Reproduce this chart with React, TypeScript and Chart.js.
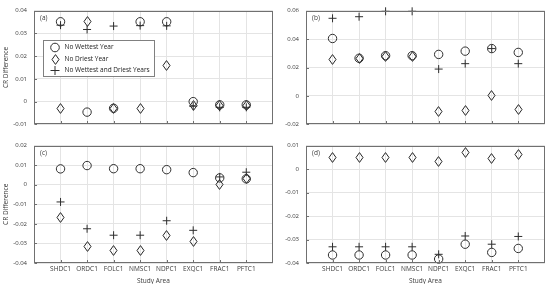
import React, { useEffect, useRef } from 'react';
import { Chart, registerables } from 'chart.js';

Chart.register(...registerables);

// ---------- data ----------
const categories = ['SHDC1', 'ORDC1', 'FOLC1', 'NMSC1', 'NDPC1', 'EXQC1', 'FRAC1', 'PFTC1'];
const seriesNames = ['No Wettest Year', 'No Driest Year', 'No Wettest and Driest Years'];
const panelLabels = ['(a)', '(b)', '(c)', '(d)'];
const yTitle = 'CR Difference';
const xTitle = 'Study Area';

// panel (a)
const aNoWettest = [0.0351, -0.0046, -0.0029, 0.0351, 0.0351, 0.0, -0.0014, -0.0014];
const aNoDriest = [-0.003, 0.0352, -0.003, -0.003, 0.0159, -0.0015, -0.0015, -0.0015];
const aNoBoth = [0.0336, 0.0317, 0.0332, 0.0334, 0.0333, -0.002, -0.0025, -0.0025];
// panel (b)
const bNoWettest = [0.0404, 0.0265, 0.0283, 0.0283, 0.0292, 0.0315, 0.0333, 0.0306];
const bNoDriest = [0.0256, 0.0262, 0.028, 0.028, -0.011, -0.0101, 0.0, -0.0094];
const bNoBoth = [0.0546, 0.0557, 0.0595, 0.0595, 0.0189, 0.0227, 0.0333, 0.0227];
// panel (c)
const cNoWettest = [0.0081, 0.0098, 0.0082, 0.0082, 0.0077, 0.0062, 0.0035, 0.003];
const cNoDriest = [-0.0166, -0.0317, -0.0334, -0.0334, -0.0258, -0.029, 0.0, 0.003];
const cNoBoth = [-0.0088, -0.0225, -0.0258, -0.0258, -0.0184, -0.0233, 0.004, 0.0064];
// panel (d)
const dNoWettest = [-0.0366, -0.0366, -0.0366, -0.0366, -0.0383, -0.032, -0.0355, -0.0338];
const dNoDriest = [0.0051, 0.005, 0.005, 0.005, 0.0033, 0.0072, 0.0046, 0.0061];
const dNoBoth = [-0.0331, -0.0331, -0.0331, -0.0331, -0.0363, -0.0285, -0.032, -0.0287];

// y-axis ranges [min, max, step]
const yRangeA = [-0.01, 0.04, 0.01];
const yRangeB = [-0.02, 0.06, 0.02];
const yRangeC = [-0.04, 0.02, 0.01];
const yRangeD = [-0.04, 0.01, 0.01];

// ---------- style ----------
const FONT = "'Open Sans', 'DejaVu Sans', sans-serif";
const INK = '#2e2e2e';
const TEXT = '#3a3a3a';
const GRID = '#e4e4e4';
const FRAME = '#707070';

function makeDiamond(): HTMLCanvasElement {
  const c = document.createElement('canvas');
  c.width = 9;
  c.height = 11;
  const g = c.getContext('2d')!;
  g.strokeStyle = '#262626';
  g.lineWidth = 1;
  g.beginPath();
  g.moveTo(4.5, 0.6);
  g.lineTo(8, 5.5);
  g.lineTo(4.5, 10.4);
  g.lineTo(1, 5.5);
  g.closePath();
  g.stroke();
  return c;
}

type PanelProps = {
  label: string;
  wettest: number[];
  driest: number[];
  both: number[];
  yRange: number[];
  left: number;
  top: number;
  width: number;
  height: number;
  padTop: number;
  padRight: number;
  yAxisWidth: number;
  xAxisHeight: number;
  showX: boolean;
  showYTitle: boolean;
  showLegend: boolean;
};

function Panel(p: PanelProps) {
  const ref = useRef<HTMLCanvasElement>(null);

  useEffect(() => {
    if (!ref.current) return;
    const diamond = makeDiamond();
    const toPts = (arr: number[]) => arr.map((v, i) => ({ x: i + 1, y: v }));

    const framePlugin = {
      id: 'frame',
      beforeDatasetsDraw(chart: any) {
        chart.ctx.imageSmoothingEnabled = false;
      },
      afterDatasetsDraw(chart: any) {
        chart.ctx.imageSmoothingEnabled = true;
      },
      afterDraw(chart: any) {
        const { ctx, chartArea: a } = chart;
        ctx.save();
        const l = Math.round(a.left) + 0.5;
        const r = Math.round(a.right) - 0.5;
        const t = Math.round(a.top) + 0.5;
        const b = Math.round(a.bottom) - 0.5;
        ctx.strokeStyle = FRAME;
        ctx.lineWidth = 1;
        // inward tick marks
        ctx.beginPath();
        chart.scales.y.ticks.forEach((tk: any) => {
          const py = Math.round(chart.scales.y.getPixelForValue(tk.value)) + 0.5;
          ctx.moveTo(l, py);
          ctx.lineTo(l + 2.5, py);
        });
        chart.scales.x.ticks.forEach((tk: any) => {
          const px = Math.round(chart.scales.x.getPixelForValue(tk.value)) + 0.5;
          ctx.moveTo(px, b);
          ctx.lineTo(px, b - 2.5);
        });
        ctx.stroke();
        ctx.strokeRect(l, t, r - l, b - t);

        // panel label
        ctx.fillStyle = TEXT;
        ctx.font = `6.5px ${FONT}`;
        ctx.textBaseline = 'middle';
        ctx.textAlign = 'left';
        ctx.fillText(p.label, a.left + 6, a.top + 8);

        if (p.showLegend) {
          const bx = Math.round(a.left + 9) + 0.5;
          const by = Math.round(a.top + 29) + 0.5;
          const bw = 111;
          const bh = 36;
          ctx.fillStyle = '#ffffff';
          ctx.fillRect(bx, by, bw, bh);
          ctx.strokeStyle = '#808080';
          ctx.strokeRect(bx, by, bw, bh);
          const mx = bx + 11.5;
          const rows = [by + 7, by + 18.5, by + 30];
          ctx.strokeStyle = INK;
          // circle
          ctx.beginPath();
          ctx.arc(mx, rows[0], 4.3, 0, Math.PI * 2);
          ctx.stroke();
          // diamond
          ctx.drawImage(diamond, Math.round(mx - 4.5), Math.round(rows[1] - 5.5));
          // plus
          ctx.beginPath();
          ctx.moveTo(mx - 4.5, rows[2]);
          ctx.lineTo(mx + 4.5, rows[2]);
          ctx.moveTo(mx, rows[2] - 4.5);
          ctx.lineTo(mx, rows[2] + 4.5);
          ctx.stroke();
          ctx.fillStyle = '#222222';
          ctx.font = `6.5px ${FONT}`;
          seriesNames.forEach((name, i) => ctx.fillText(name, bx + 21, rows[i]));
        }
        ctx.restore();
      },
    };

    const base = {
      showLine: false,
      clip: false,
      borderColor: INK,
      backgroundColor: 'rgba(0,0,0,0)',
      pointBorderWidth: 1,
      pointRadius: 4.2,
      pointHoverRadius: 4.2,
    };

    const chart = new Chart(ref.current, {
      type: 'scatter',
      data: {
        datasets: [
          { ...base, label: seriesNames[0], data: toPts(p.wettest), pointStyle: 'circle' },
          { ...base, label: seriesNames[1], data: toPts(p.driest), pointStyle: diamond as any },
          { ...base, label: seriesNames[2], data: toPts(p.both), pointStyle: 'cross', pointRadius: 4 },
        ],
      },
      options: {
        responsive: false,
        animation: false,
        events: [],
        layout: { padding: { top: p.padTop, right: p.padRight, left: 0, bottom: 0 } },
        plugins: { legend: { display: false }, tooltip: { enabled: false } },
        scales: {
          x: {
            type: 'linear',
            min: 0,
            max: 9,
            afterBuildTicks: (scale: any) => {
              scale.ticks = categories.map((_, i) => ({ value: i + 1 }));
            },
            afterFit: (scale: any) => {
              scale.height = p.xAxisHeight;
            },
            grid: { color: GRID, drawTicks: false },
            border: { display: false },
            ticks: {
              display: p.showX,
              autoSkip: false,
              maxRotation: 0,
              padding: 2,
              color: TEXT,
              font: { family: FONT, size: 6.5 },
              callback: (v: any) => categories[Number(v) - 1] ?? '',
            },
            title: {
              display: p.showX,
              text: xTitle,
              color: TEXT,
              font: { family: FONT, size: 6.5, lineHeight: 1 },
              padding: { top: 2, bottom: 0 },
            },
          },
          y: {
            type: 'linear',
            min: p.yRange[0],
            max: p.yRange[1],
            afterFit: (scale: any) => {
              scale.width = p.yAxisWidth;
            },
            grid: { color: GRID, drawTicks: false },
            border: { display: false },
            ticks: {
              stepSize: p.yRange[2],
              padding: 7,
              color: TEXT,
              font: { family: FONT, size: 6 },
            },
            title: {
              display: p.showYTitle,
              text: yTitle,
              color: TEXT,
              font: { family: FONT, size: 6.5 },
              padding: { top: 2, bottom: 0 },
            },
          },
        },
      } as any,
      plugins: [framePlugin],
    });
    return () => chart.destroy();
  }, []);

  return (
    <canvas
      ref={ref}
      width={p.width}
      height={p.height}
      style={{ position: 'absolute', left: p.left, top: p.top, width: p.width, height: p.height }}
    />
  );
}

export default function App() {
  return (
    <div style={{ position: 'absolute', left: 0, top: 0, width: 550, height: 284, background: '#ffffff', overflow: 'hidden' }}>
      <Panel label={panelLabels[0]} wettest={aNoWettest} driest={aNoDriest} both={aNoBoth} yRange={yRangeA}
        left={0} top={0} width={278} height={135} padTop={7} padRight={3} yAxisWidth={34} xAxisHeight={9}
        showX={false} showYTitle={true} showLegend={true} />
      <Panel label={panelLabels[1]} wettest={bNoWettest} driest={bNoDriest} both={bNoBoth} yRange={yRangeB}
        left={278} top={0} width={272} height={135} padTop={7} padRight={3} yAxisWidth={28} xAxisHeight={9}
        showX={false} showYTitle={false} showLegend={false} />
      <Panel label={panelLabels[2]} wettest={cNoWettest} driest={cNoDriest} both={cNoBoth} yRange={yRangeC}
        left={0} top={135} width={278} height={149} padTop={9} padRight={3} yAxisWidth={34} xAxisHeight={21}
        showX={true} showYTitle={true} showLegend={false} />
      <Panel label={panelLabels[3]} wettest={dNoWettest} driest={dNoDriest} both={dNoBoth} yRange={yRangeD}
        left={278} top={135} width={272} height={149} padTop={9} padRight={3} yAxisWidth={28} xAxisHeight={21}
        showX={true} showYTitle={false} showLegend={false} />
    </div>
  );
}
